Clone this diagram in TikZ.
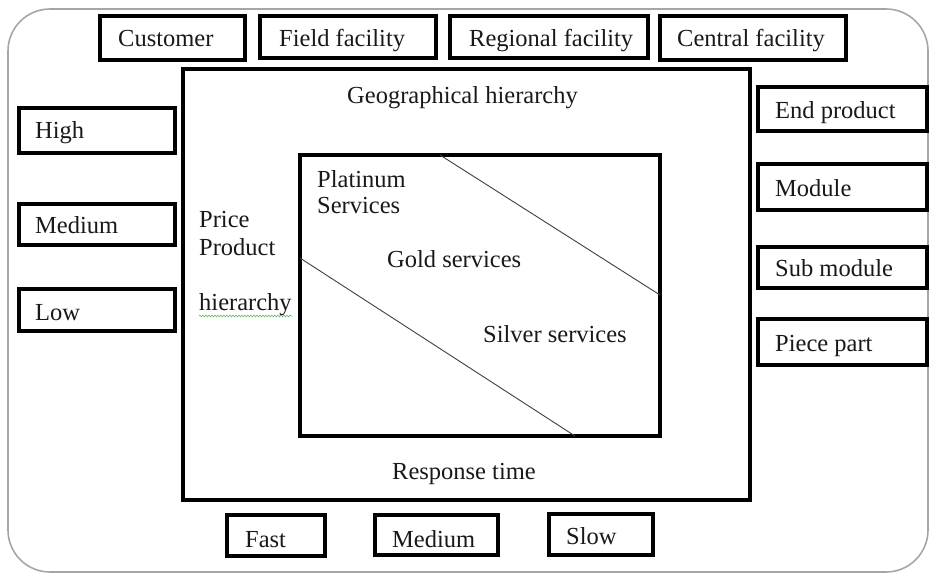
\documentclass[tikz,border=0pt]{standalone}
\usepackage{fontspec}
\setmainfont{Liberation Serif}
\usetikzlibrary{decorations.pathmorphing}
\begin{document}
\begin{tikzpicture}[x=1pt,y=-1pt,
  box/.style={draw=black,line width=4pt,fill=white,inner sep=0pt,rectangle},
  lbl/.style={inner sep=0pt,anchor=base west,font=\fontsize{24.5}{28}\selectfont,text=black!90},
  divider/.style={draw=black!75,line width=0.9pt}]
\useasboundingbox (0,0) rectangle (931,575);
% outer frame
\draw[draw=black!35,line width=1.6pt,rounded corners=42pt] (8,9) rectangle (928,572);

% geographical hierarchy (top row)
\node[box,minimum width=145pt,minimum height=44pt] (cust) at (172.5,38) {};
\node[box,minimum width=176pt,minimum height=42pt] (field) at (348,37) {};
\node[box,minimum width=198pt,minimum height=42pt] (regional) at (549,37) {};
\node[box,minimum width=186pt,minimum height=44pt] (central) at (753,38) {};
\node[lbl] (custT) at (118,47) {Customer};
\node[lbl] (fieldT) at (279,47) {Field facility};
\node[lbl] (regionalT) at (469,47) {Regional facility};
\node[lbl] (centralT) at (677,47) {Central facility};

% main frame and service matrix
\node[box,minimum width=567pt,minimum height=431pt] (geo) at (466.5,284.5) {};
\node[box,minimum width=360pt,minimum height=281pt] (inner) at (480,295.5) {};
\coordinate (d1a) at (440,155);
\coordinate (d1b) at (660,295);
\coordinate (d2a) at (300,258);
\coordinate (d2b) at (575,436);
\draw[divider] (d1a) -- (d1b);
\draw[divider] (d2a) -- (d2b);

\node[lbl] (geoT) at (347,103) {Geographical hierarchy};
\node[lbl] (respT) at (392,479) {Response time};
\node[lbl] (priceT) at (199,227) {Price};
\node[lbl] (prodT) at (199,255) {Product};
\node[lbl] (hierT) at (199,310) {hierarchy};
\draw[green!55!black!60,line width=0.6pt,decorate,decoration={snake,amplitude=0.9pt,segment length=3pt}]
  ([yshift=-6pt]hierT.base west) -- ([yshift=-6pt]hierT.base east);
\node[lbl] (platT) at (317,187) {Platinum};
\node[lbl] (servT) at (317,213) {Services};
\node[lbl] (goldT) at (387,267) {Gold services};
\node[lbl] (silverT) at (483,342) {Silver services};

% price levels (left column)
\node[box,minimum width=156pt,minimum height=45pt] (high) at (97,130.5) {};
\node[box,minimum width=156pt,minimum height=41pt] (medL) at (97,224.5) {};
\node[box,minimum width=156pt,minimum height=42pt] (low) at (97,310) {};
\node[lbl] (highT) at (35,139) {High};
\node[lbl] (medLT) at (35,233) {Medium};
\node[lbl] (lowT) at (35,320) {Low};

% product levels (right column)
\node[box,minimum width=169pt,minimum height=44pt] (endp) at (842.5,109) {};
\node[box,minimum width=169pt,minimum height=46pt] (module) at (842.5,187) {};
\node[box,minimum width=169pt,minimum height=41pt] (submod) at (842.5,267.5) {};
\node[box,minimum width=169pt,minimum height=46pt] (piece) at (842.5,342) {};
\node[lbl] (endpT) at (775,118) {End product};
\node[lbl] (moduleT) at (775,196) {Module};
\node[lbl] (submodT) at (775,276) {Sub module};
\node[lbl] (pieceT) at (775,351) {Piece part};

% response times (bottom row)
\node[box,minimum width=98pt,minimum height=41pt] (fast) at (276,535.5) {};
\node[box,minimum width=123pt,minimum height=40pt] (medB) at (436.5,535) {};
\node[box,minimum width=104pt,minimum height=41pt] (slow) at (601,534.5) {};
\node[lbl] (fastT) at (245,547) {Fast};
\node[lbl] (medBT) at (392,547) {Medium};
\node[lbl] (slowT) at (566,544) {Slow};
\end{tikzpicture}
\end{document}
